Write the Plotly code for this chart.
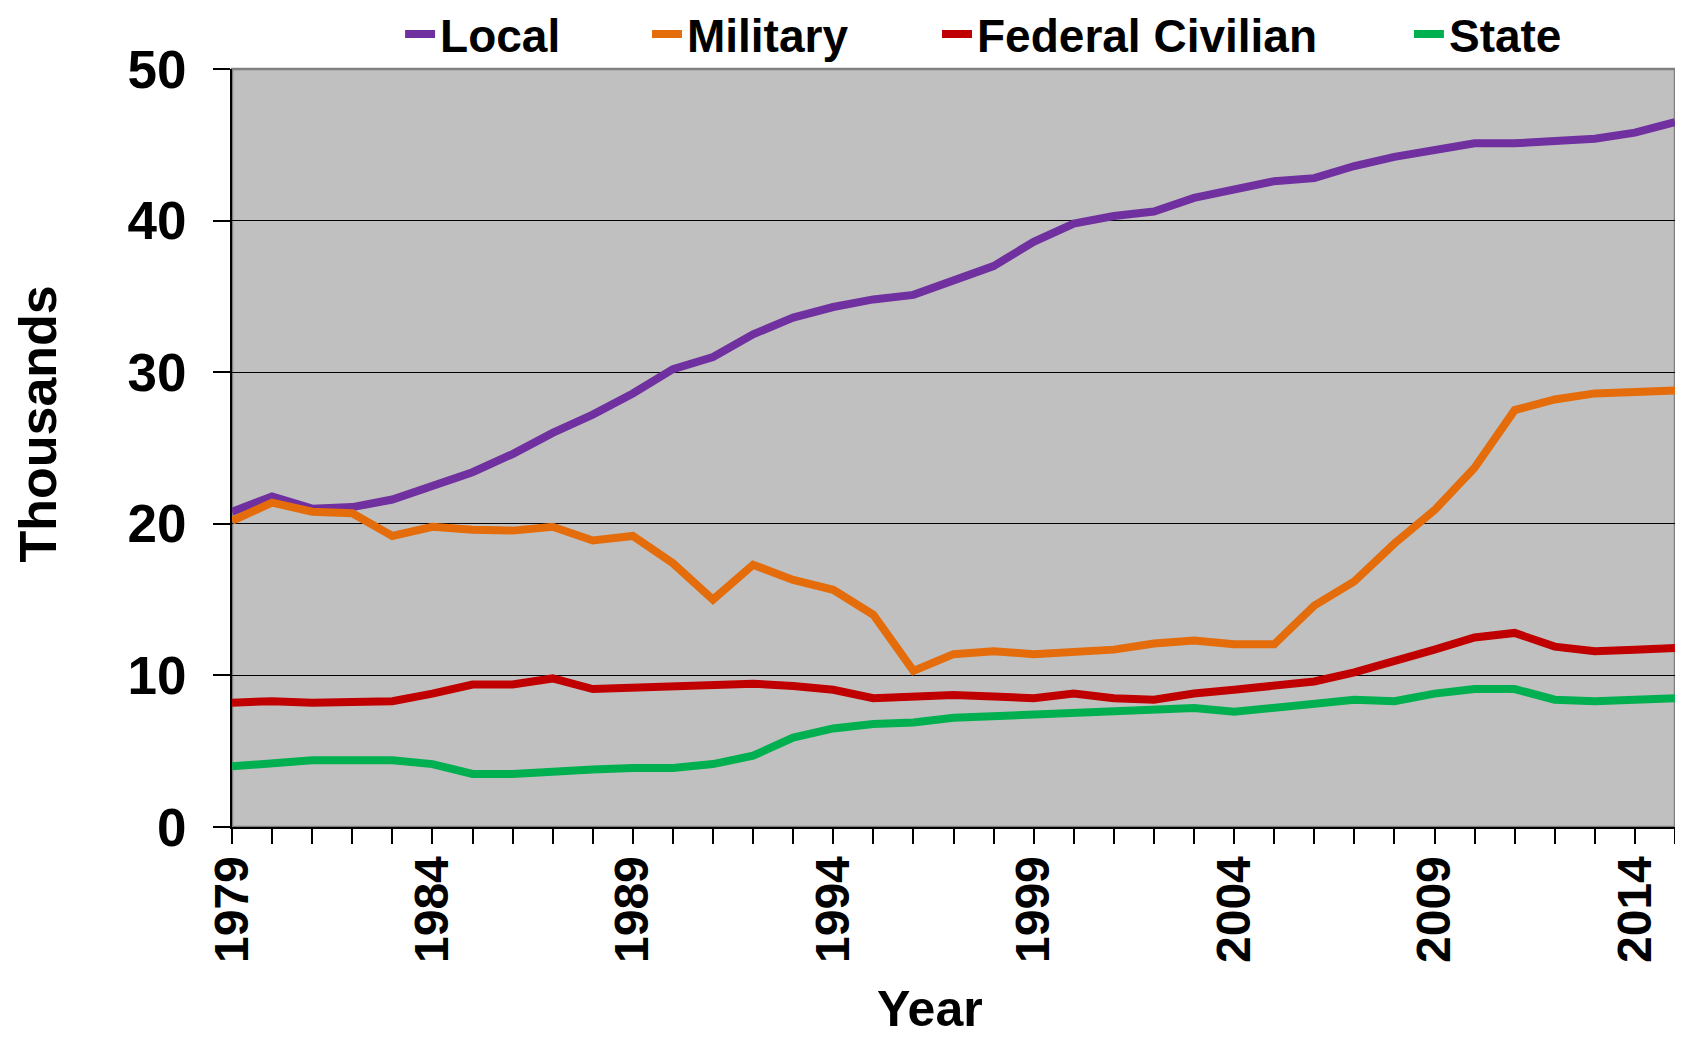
import plotly.graph_objects as go

years = list(range(1979, 2016))
local = [20.8, 21.8, 21.0, 21.1, 21.6, 22.5, 23.4, 24.6, 26.0, 27.2, 28.6, 30.2, 31.0,
         32.5, 33.6, 34.3, 34.8, 35.1, 36.1, 37.0, 38.6, 39.8, 40.3, 40.6, 41.5, 42.0,
         42.6, 42.8, 43.6, 44.2, 44.7, 45.1, 45.1, 45.2, 45.4, 45.8, 46.5]
military = [20.2, 21.4, 20.8, 20.7, 19.2, 19.8, 19.6, 19.55, 19.8, 18.9, 19.2, 17.4, 15.0,
            17.3, 16.3, 15.65, 14.0, 10.3, 11.4, 11.6, 11.4, 11.55, 11.7, 12.1, 12.3, 12.05,
            12.05, 14.6, 16.2, 18.7, 20.9, 23.7, 27.5, 28.2, 28.6, 28.7, 28.8]
federal = [8.2, 8.3, 8.2, 8.3, 8.3, 8.8, 9.4, 9.4, 9.8, 9.1, 9.2, 9.35, 9.4,
           9.45, 9.3, 9.05, 8.5, 8.6, 8.7, 8.6, 8.5, 8.8, 8.5, 8.4, 8.8, 9.05,
           9.3, 9.6, 10.2, 10.9, 11.7, 12.5, 12.8, 11.9, 11.6, 11.7, 11.8]
state = [4.0, 4.2, 4.4, 4.4, 4.4, 4.15, 3.5, 3.5, 3.7, 3.8, 3.9, 3.9, 4.15,
         4.7, 5.9, 6.5, 6.8, 6.9, 7.2, 7.3, 7.4, 7.5, 7.7, 7.8, 7.85, 7.6,
         7.9, 8.1, 8.4, 8.3, 8.8, 9.1, 9.1, 8.4, 8.3, 8.4, 8.5]

series_names = ["Local", "Military", "Federal Civilian", "State"]
series_values = [local, military, federal, state]
series_colors = ["#7030A0", "#E46C0A", "#C00000", "#00B050"]
legend_ids = ["legend", "legend2", "legend3", "legend4"]
legend_x = [0.2352, 0.3833, 0.5573, 0.8404]
legend_entry_w = [150, 190, 370, 145]

xtick_vals = [1979, 1984, 1989, 1994, 1999, 2004, 2009, 2014]
xtick_text = ["1979", "1984", "1989", "1994", "1999", "2004", "2009", "2014"]
ytick_vals = [0, 10, 20, 30, 40, 50]

FONT = "Liberation Sans, Arial, sans-serif"
W, H = 1667, 1030

fig = go.Figure()
for name, vals, col, lg in zip(series_names, series_values, series_colors, legend_ids):
    fig.add_trace(go.Scatter(x=years, y=vals, mode="lines", name=name, legend=lg,
                             line=dict(color=col, width=8)))

legend_style = dict(orientation="h", xanchor="left", xref="container",
                    yref="container", y=1 - 26 / H, yanchor="middle",
                    font=dict(family=FONT, size=46, color="black", weight="bold"),
                    bgcolor="rgba(0,0,0,0)", borderwidth=0,
                    entrywidthmode="pixels")

layout_legends = {}
for lg, lx, ew in zip(legend_ids, legend_x, legend_entry_w):
    layout_legends[lg] = dict(legend_style, x=lx, entrywidth=ew)

fig.update_layout(
    width=W, height=H,
    margin=dict(l=224, r=0, t=61, b=211, autoexpand=False),
    paper_bgcolor="white",
    plot_bgcolor="#C0C0C0",
    font=dict(family=FONT, color="black"),
    showlegend=True,
    shapes=[dict(type="rect", xref="paper", yref="paper", x0=0, y0=0, x1=1, y1=1,
                 line=dict(color="#808080", width=2.5), layer="below")],
    annotations=[
        dict(text="<b>Thousands</b>", xref="paper", yref="paper", x=-0.1347, y=0.5317,
             xanchor="center", yanchor="middle", textangle=-90, showarrow=False,
             font=dict(family=FONT, size=52, color="black")),
        dict(text="<b>Year</b>", xref="paper", yref="paper", x=0.4834, y=-0.2395,
             xanchor="center", yanchor="middle", showarrow=False,
             font=dict(family=FONT, size=50, color="black")),
    ],
    **layout_legends,
)

fig.update_xaxes(
    range=[1979, 2015],
    automargin=False,
    tickmode="array", tickvals=xtick_vals, ticktext=xtick_text,
    tickangle=-90,
    tickfont=dict(family=FONT, size=48, color="black", weight="bold"),
    ticks="outside", ticklen=15, tickwidth=1.5, tickcolor="black",
    ticklabelstandoff=-7,
    minor=dict(dtick=1, tick0=1979, ticks="outside", ticklen=15, tickwidth=1.5,
               tickcolor="black", showgrid=False),
    showline=True, linecolor="black", linewidth=2,
    showgrid=False, zeroline=False,
)

fig.update_yaxes(
    range=[0, 50],
    automargin=False,
    tickmode="array", tickvals=ytick_vals,
    tickfont=dict(family=FONT, size=53, color="black", weight="bold"),
    ticks="outside", ticklen=17, tickwidth=1.5, tickcolor="black",
    ticklabelstandoff=16,
    showline=True, linecolor="black", linewidth=2,
    showgrid=True, gridcolor="black", gridwidth=1.2,
    zeroline=False,
)

fig.write_html("out.html")
